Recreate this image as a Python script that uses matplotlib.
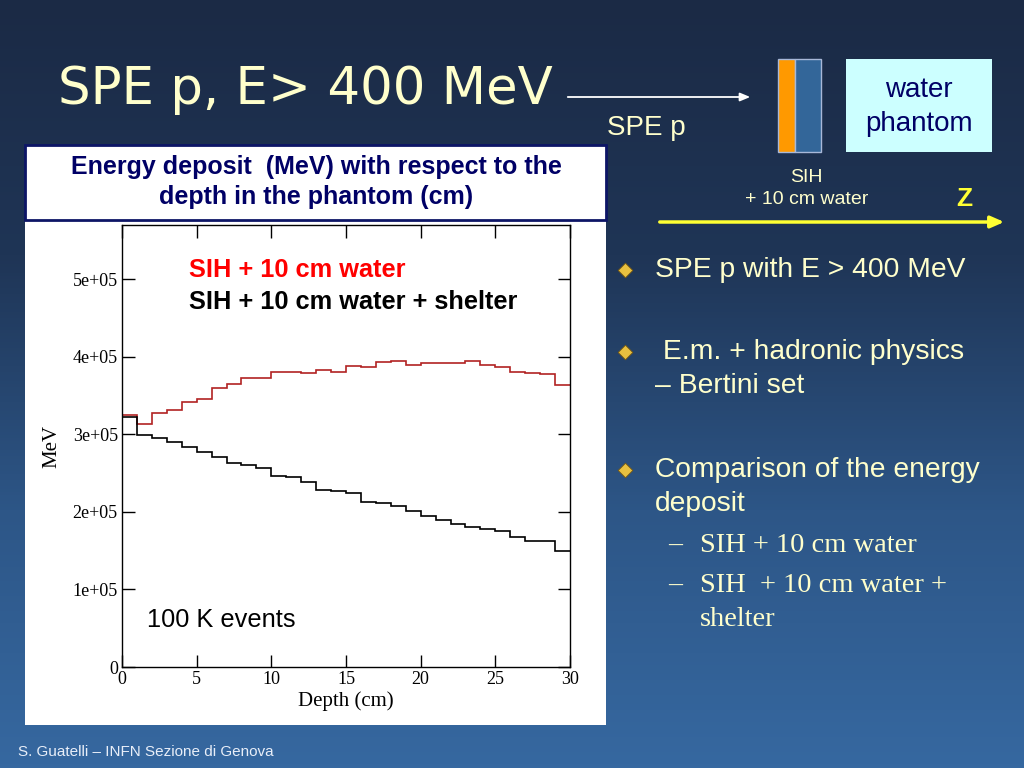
import numpy as np
import matplotlib
matplotlib.use("Agg")
import matplotlib.pyplot as plt
from matplotlib.patches import Rectangle, FancyArrowPatch
from matplotlib.colors import LinearSegmentedColormap

# ---- data ----
depth_edges = list(range(0, 31))
sih_water = [3.25, 3.14, 3.28, 3.32, 3.42, 3.45, 3.60, 3.65, 3.73, 3.73,
             3.80, 3.80, 3.79, 3.83, 3.80, 3.88, 3.87, 3.93, 3.94, 3.90,
             3.92, 3.92, 3.92, 3.95, 3.90, 3.87, 3.81, 3.79, 3.78, 3.64]
sih_water_shelter = [3.23, 2.99, 2.95, 2.90, 2.84, 2.77, 2.71, 2.63, 2.60, 2.56,
                     2.46, 2.45, 2.39, 2.28, 2.27, 2.25, 2.13, 2.11, 2.08, 2.01,
                     1.95, 1.89, 1.85, 1.81, 1.78, 1.75, 1.68, 1.63, 1.62, 1.49]
sih_water = [v * 1e5 for v in sih_water]
sih_water_shelter = [v * 1e5 for v in sih_water_shelter]
x_ticks = [0, 5, 10, 15, 20, 25, 30]
y_ticks = [0, 1e5, 2e5, 3e5, 4e5, 5e5]
y_tick_labels = ["0", "1e+05", "2e+05", "3e+05", "4e+05", "5e+05"]
series_labels = ["SIH + 10 cm water", "SIH + 10 cm water + shelter"]
bullets = ["SPE p with E > 400 MeV",
           " E.m. + hadronic physics\n\u2013 Bertini set",
           "Comparison of the energy\ndeposit"]
sub_bullets = ["SIH + 10 cm water", "SIH  + 10 cm water +\nshelter"]

W, H = 1024, 768
fig = plt.figure(figsize=(W / 100, H / 100), dpi=100)

def fx(x):
    return x / W

def fy(y):
    return 1 - y / H

# background gradient
bg = fig.add_axes([0, 0, 1, 1])
bg.set_xlim(0, W)
bg.set_ylim(H, 0)
bg.axis("off")
cmap = LinearSegmentedColormap.from_list("bgc", ["#1b2a45", "#1f3556", "#2d5687", "#3668a0"])
grad = np.linspace(0, 1, 256).reshape(-1, 1)
bg.imshow(grad, cmap=cmap, aspect="auto", extent=[0, W, H, 0], zorder=0)

pale = "#ffffcc"
sans = ["Liberation Sans", "DejaVu Sans"]
serif = ["Liberation Serif", "DejaVu Serif"]

# title
bg.text(58, 90, "SPE p, E> 400 MeV", color=pale, fontsize=37, family=["DejaVu Sans"],
        va="center", ha="left", zorder=3)
bg.add_patch(FancyArrowPatch((565, 97), (753, 97), arrowstyle="-|>,head_length=6,head_width=2.5",
                             color="white", lw=1.3, zorder=3))
bg.text(607, 128, "SPE p", color=pale, fontsize=20, family=sans, va="center", ha="left", zorder=3)

# geometry sketch
bg.add_patch(Rectangle((778, 59), 17, 93, facecolor="#ff9900", edgecolor="#a8b8d8", lw=1, zorder=3))
bg.add_patch(Rectangle((795, 59), 26, 93, facecolor="#336699", edgecolor="#a8b8d8", lw=1, zorder=3))
bg.add_patch(Rectangle((846, 59), 146, 93, facecolor="#ccffff", edgecolor="none", zorder=3))
bg.text(919, 90, "water", color="#000066", fontsize=20, family=sans,
        ha="center", va="center", zorder=4)
bg.text(919, 124, "phantom", color="#000066", fontsize=20, family=sans,
        ha="center", va="center", zorder=4)
bg.text(806, 177, "SIH", color=pale, fontsize=14, family=sans, ha="center", va="center", zorder=3)
bg.text(807, 200, "+ 10 cm water", color=pale, fontsize=14, family=sans, ha="center", va="center", zorder=3)
bg.text(964, 199, "Z", color="#ffff33", fontsize=19, family=sans, weight="bold",
        ha="center", va="center", zorder=3)
bg.add_patch(FancyArrowPatch((657, 222), (1007, 222), arrowstyle="-|>,head_length=8,head_width=3.5",
                             color="#ffff33", lw=2.5, zorder=3))

# chart header and panel
bg.add_patch(Rectangle((25, 145), 581, 75, facecolor="white", edgecolor="#0d1566", lw=2, zorder=3))
bg.text(316, 167, "Energy deposit  (MeV) with respect to the",
        color="#000066", fontsize=18, family=sans, weight="bold",
        ha="center", va="center", zorder=4)
bg.text(316, 197, "depth in the phantom (cm)",
        color="#000066", fontsize=18, family=sans, weight="bold",
        ha="center", va="center", zorder=4)
bg.add_patch(Rectangle((25, 221), 581, 504, facecolor="white", edgecolor="none", zorder=2))

# bullets
bx = 625
def diamond(y):
    bg.scatter([bx], [y], marker="D", s=55, color="#e8c040", edgecolors="#7a5a10",
               linewidths=0.6, zorder=4)

bullet_y = [270, 352, 470]
line_gap = 34
for yb, txt in zip(bullet_y, bullets):
    diamond(yb)
    for i, line in enumerate(txt.split("\n")):
        bg.text(655, yb + i * line_gap, line, color=pale, fontsize=20.3, family=sans,
                ha="left", va="center", zorder=4)

sub_y = [545, 585]
for ys, txt in zip(sub_y, sub_bullets):
    bg.text(668, ys, "\u2013", color=pale, fontsize=20, family=serif,
            ha="left", va="center", zorder=4)
    for i, line in enumerate(txt.split("\n")):
        bg.text(700, ys + i * 35, line, color=pale, fontsize=20.5, family=serif,
                ha="left", va="center", zorder=4)

bg.text(18, 752, "S. Guatelli \u2013 INFN Sezione di Genova", color="#e8eef8", fontsize=11,
        family=["Liberation Sans Narrow", "Liberation Sans", "DejaVu Sans"],
        ha="left", va="center", zorder=4)

# plot axes
ax = fig.add_axes([fx(122), fy(667), (570 - 122) / W, (667 - 225) / H])
ax.set_zorder(5)
ax.set_facecolor("white")
ax.stairs(sih_water, depth_edges, color="#b22222", lw=1.2, baseline=None)
ax.stairs(sih_water_shelter, depth_edges, color="black", lw=1.2, baseline=None)
ax.set_xlim(0, 30)
ax.set_ylim(0, 5.7e5)
ax.set_xticks(x_ticks)
ax.set_xticklabels([str(t) for t in x_ticks])
ax.set_yticks(y_ticks)
ax.set_yticklabels(y_tick_labels)
ax.tick_params(direction="in", length=9, width=1, top=True, right=True,
               labelsize=13, pad=3)
for lab in ax.get_xticklabels() + ax.get_yticklabels():
    lab.set_family(serif)
for s in ax.spines.values():
    s.set_linewidth(1)
ax.set_xlabel("Depth (cm)", fontsize=15, family=serif, labelpad=2)
ax.set_ylabel("MeV", fontsize=15, family=serif, labelpad=8)

ax.text(4.5, 5.12e5, series_labels[0], color="#ff0000", fontsize=18.3, family=sans,
        weight="bold", ha="left", va="center", transform=ax.transData)
ax.text(4.5, 4.71e5, series_labels[1], color="black", fontsize=18.3, family=sans,
        weight="bold", ha="left", va="center", transform=ax.transData)
ax.text(1.7, 0.6e5, "100 K events", color="black", fontsize=18.3, family=sans,
        ha="left", va="center", transform=ax.transData)

fig.savefig("out.png", dpi=100)
